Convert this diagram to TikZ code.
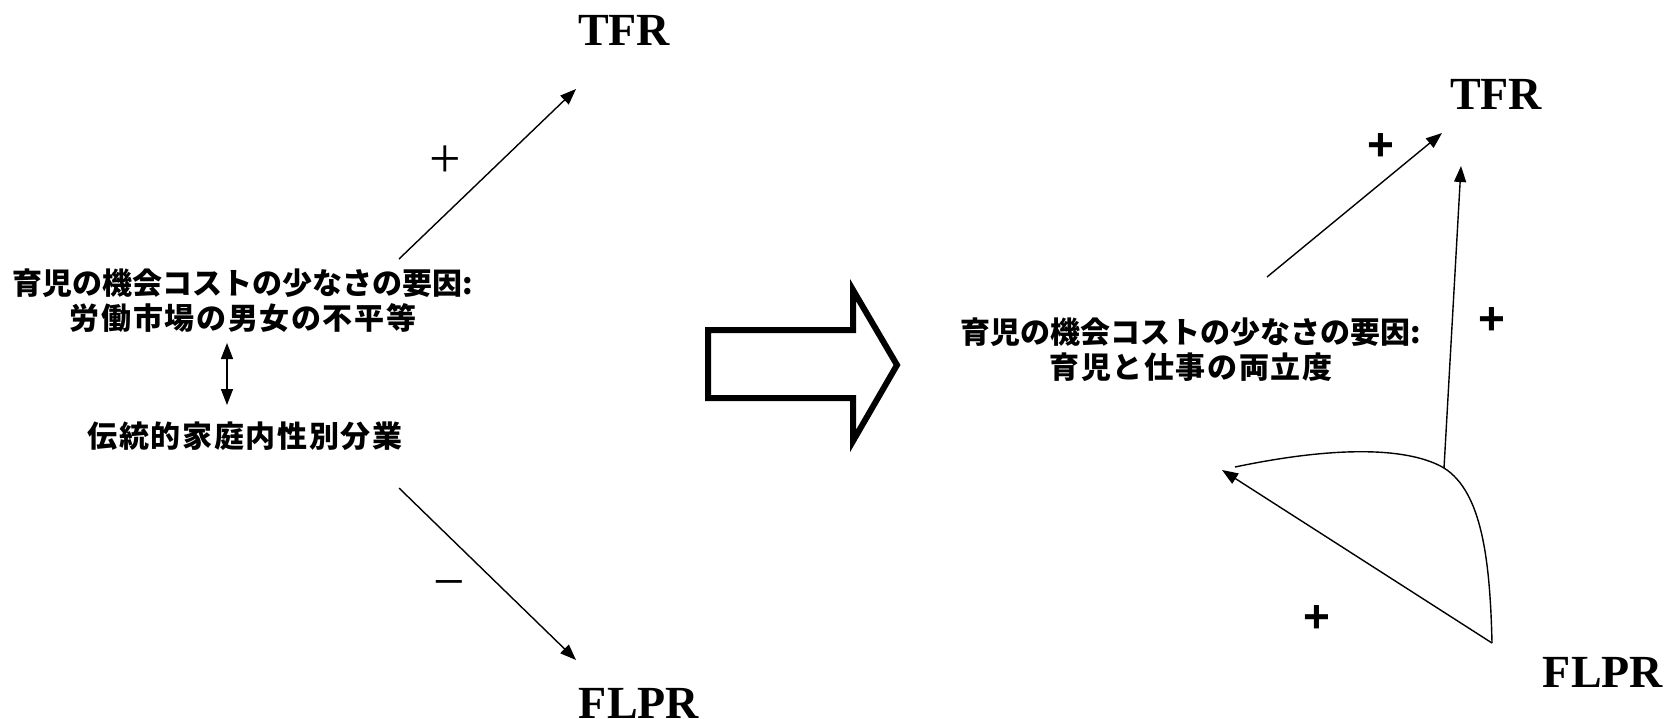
\documentclass[tikz,border=0pt]{standalone}
\usepackage{fontspec}
\setmainfont{Liberation Serif}
\newfontfamily\jpfont{Noto Sans CJK JP}
\newfontfamily\jpwide{Noto Sans CJK JP}[LetterSpace=5.5]
\newfontfamily\arialfont{Liberation Sans}
\usetikzlibrary{arrows.meta}
\begin{document}
\begin{tikzpicture}[x=0.5pt,y=-0.5pt,
  lbl/.style={font=\bfseries\fontsize{23}{26}\selectfont, inner sep=0},
  jptext/.style={font=\jpfont\bfseries\fontsize{15}{17.5}\selectfont, align=center, inner sep=0},
  thinsign/.style={font=\fontsize{28}{28}\selectfont, inner sep=0},
  boldsign/.style={font=\arialfont\bfseries\fontsize{23}{23}\selectfont, inner sep=0},
  conn/.style={line width=0.7pt, -{Triangle[length=8pt,width=6pt]}},
  dconn/.style={line width=0.7pt, {Triangle[length=8pt,width=6pt]}-{Triangle[length=8pt,width=6pt]}},
  plain/.style={line width=0.7pt},
  bigarrow/.style={line width=3pt, miter limit=10}
]
\useasboundingbox (0,0) rectangle (1679,718);

% ---------- left diagram ----------
\node[lbl] (tfrL) at (624,30) {TFR};
\node[lbl] (flprL) at (639,703) {FLPR};
\node[jptext] (costL) at (243,301) {育児の機会コストの少なさの要因:\\{\jpwide\bfseries 労働市場の男女の不平等}};
\node[jptext, font=\jpwide\bfseries\fontsize{15}{17.5}\selectfont] (divL) at (245,436) {伝統的家庭内性別分業};
\node[thinsign] (plusL) at (445,162) {+};
\node[thinsign] (minusL) at (449,590) {−};

\coordinate (upS) at (399,259);
\coordinate (upE) at (576,89);
\coordinate (dnS) at (399,488);
\coordinate (dnE) at (576,660);
\coordinate (dA) at (227,343);
\coordinate (dB) at (227,405);

\draw[conn] (upS) -- (upE);
\draw[conn] (dnS) -- (dnE);
\draw[dconn] (dA) -- (dB);

% ---------- big block arrow ----------
\draw[bigarrow] (708,330) -- (853,330) -- (853,290) -- (897,365) -- (853,441) -- (853,398) -- (708,398) -- cycle;

% ---------- right diagram ----------
\node[lbl] (tfrR) at (1496,94) {TFR};
\node[lbl] (flprR) at (1603,672) {FLPR};
\node[jptext] (costR) at (1191,350) {育児の機会コストの少なさの要因:\\{\jpwide\bfseries 育児と仕事の両立度}};
\node[boldsign] (plusR1) at (1381,147) {+};
\node[boldsign] (plusR2) at (1492,321) {+};
\node[boldsign] (plusR3) at (1317,619) {+};

\coordinate (rS) at (1267,277);
\coordinate (rE) at (1442,133);
\coordinate (fB) at (1492,643);
\coordinate (jn) at (1444,468);
\coordinate (lE) at (1235,467);
\coordinate (vE) at (1461,166);
\coordinate (aE) at (1222,470);

\draw[conn] (rS) -- (rE);
\draw[conn] (jn) -- (vE);
\draw[conn] (fB) -- (aE);
\draw[plain] (fB) .. controls (1490,560) and (1482,492) .. (jn)
             .. controls (1410,448) and (1340,445) .. (lE);
\end{tikzpicture}
\end{document}
